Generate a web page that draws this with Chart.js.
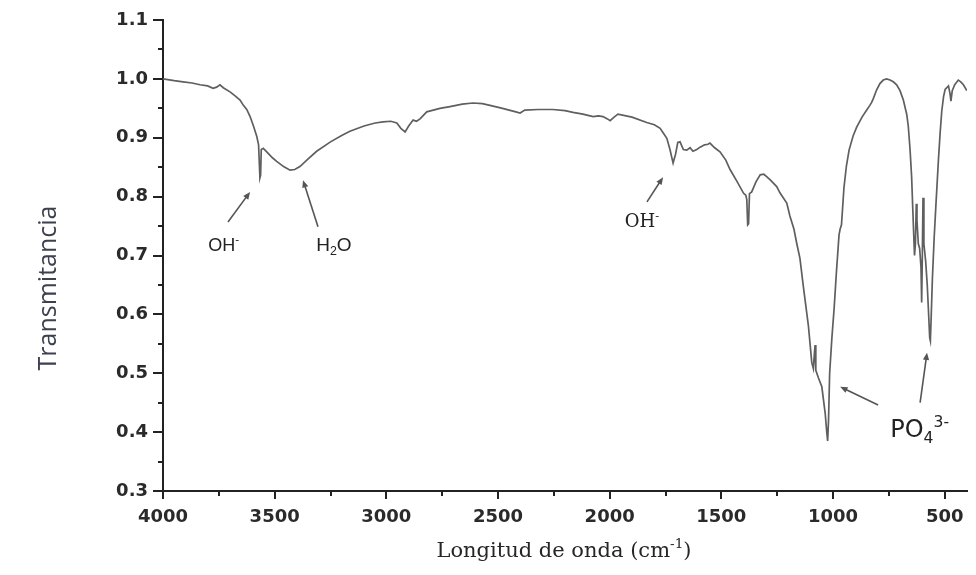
<!DOCTYPE html>
<html>
<head>
<meta charset="utf-8">
<script src="https://cdn.jsdelivr.net/npm/chart.js@4.4.1/dist/chart.umd.min.js"></script>
<style>
  html, body { margin: 0; padding: 0; background: #fff; }
  #wrap { width: 976px; height: 575px; position: relative; }
</style>
</head>
<body>
<div id="wrap"><canvas id="myChart"></canvas></div>
<script>
// IR spectrum (wavenumber cm-1 / transmittance)
const wavenumber = [
  4000, 3950, 3910, 3870, 3834, 3800, 3776, 3760, 3745, 3730, 3700, 3680, 3655, 3640, 3625, 3610,
  3595, 3580, 3572, 3568, 3566, 3563, 3560, 3551, 3530, 3510, 3491, 3460, 3431, 3410, 3387, 3350,
  3312, 3250, 3200, 3163, 3100, 3050, 3015, 2980, 2953, 2935, 2916, 2900, 2880, 2865, 2849, 2819,
  2790, 2760, 2715, 2660, 2612, 2570, 2536, 2480, 2420, 2401, 2380, 2320, 2254, 2200, 2164, 2120,
  2074, 2050, 2030, 2010, 1998, 1980, 1963, 1900, 1834, 1800, 1774, 1760, 1744, 1730, 1716, 1705,
  1695, 1685, 1670, 1655, 1640, 1627, 1610, 1595, 1575, 1560, 1551, 1530, 1506, 1480, 1461, 1430,
  1401, 1390, 1386, 1382, 1378, 1374, 1364, 1345, 1326, 1310, 1297, 1280, 1252, 1237, 1207, 1193,
  1175, 1162, 1148, 1133, 1110, 1095, 1088, 1083, 1080, 1077, 1065, 1050, 1035, 1028, 1024, 1020,
  1015, 1005, 995, 985, 973, 968, 962, 951, 940, 928, 910, 894, 870, 849, 835, 827,
  820, 805, 790, 775, 760, 745, 730, 715, 700, 685, 670, 663, 655, 648, 640, 635,
  631, 627, 624, 618, 612, 606, 603, 600, 597, 593, 585, 578, 573, 567, 564, 560,
  555, 547, 540, 528, 520, 513, 505, 498, 483, 476, 472, 466, 455, 439, 428, 416, 401
]
const transmittance = [
  1.000, 0.997, 0.995, 0.993, 0.990, 0.988, 0.984, 0.986, 0.990, 0.985, 0.978, 0.972, 0.964, 0.955, 0.948, 0.936,
  0.920, 0.902, 0.888, 0.850, 0.832, 0.836, 0.880, 0.882, 0.874, 0.866, 0.860, 0.851, 0.845, 0.846, 0.851, 0.864,
  0.877, 0.893, 0.904, 0.911, 0.920, 0.925, 0.927, 0.928, 0.925, 0.916, 0.910, 0.920, 0.930, 0.928, 0.932, 0.944,
  0.947, 0.950, 0.953, 0.957, 0.959, 0.958, 0.955, 0.950, 0.944, 0.942, 0.947, 0.948, 0.948, 0.946, 0.943, 0.940,
  0.936, 0.937, 0.936, 0.932, 0.929, 0.935, 0.940, 0.935, 0.926, 0.922, 0.916, 0.908, 0.899, 0.880, 0.857, 0.872,
  0.892, 0.893, 0.880, 0.879, 0.883, 0.877, 0.880, 0.884, 0.888, 0.889, 0.891, 0.883, 0.876, 0.862, 0.846, 0.826,
  0.806, 0.802, 0.795, 0.752, 0.754, 0.805, 0.808, 0.825, 0.837, 0.838, 0.834, 0.828, 0.817, 0.806, 0.789, 0.767,
  0.745, 0.720, 0.695, 0.648, 0.580, 0.518, 0.508, 0.535, 0.548, 0.505, 0.492, 0.477, 0.432, 0.400, 0.385, 0.420,
  0.500, 0.560, 0.610, 0.670, 0.735, 0.745, 0.752, 0.815, 0.852, 0.879, 0.903, 0.918, 0.935, 0.947, 0.955, 0.960,
  0.966, 0.981, 0.992, 0.998, 1.000, 0.998, 0.995, 0.990, 0.980, 0.964, 0.940, 0.920, 0.880, 0.834, 0.750, 0.700,
  0.720, 0.788, 0.760, 0.720, 0.712, 0.680, 0.620, 0.700, 0.798, 0.720, 0.690, 0.650, 0.610, 0.560, 0.555, 0.600,
  0.660, 0.730, 0.780, 0.862, 0.910, 0.945, 0.970, 0.982, 0.988, 0.975, 0.962, 0.980, 0.990, 0.998, 0.995, 0.990, 0.980
]

const xTicks = [4000, 3500, 3000, 2500, 2000, 1500, 1000, 500]
const xMinor = [3750, 3250, 2750, 2250, 1750, 1250, 750]
const yTicks = [0.3, 0.4, 0.5, 0.6, 0.7, 0.8, 0.9, 1.0, 1.1]
const yMinor = [0.35, 0.45, 0.55, 0.65, 0.75, 0.85, 0.95, 1.05]

// band labels, placed in data units
const bandLabels = [
  { x: 3728, y: 0.708, size: 18, family: '"Liberation Sans", Arial, sans-serif', parts: [{ t: 'OH' }, { t: '-', sup: true }] },
  { x: 3235, y: 0.708, size: 19, family: '"Liberation Sans", Arial, sans-serif', parts: [{ t: 'H' }, { t: '2', sub: true }, { t: 'O' }] },
  { x: 1855, y: 0.748, size: 18, family: '"DejaVu Serif", serif', parts: [{ t: 'OH' }, { t: '-', sup: true }] },
  { x: 612, y: 0.391, size: 24, family: '"DejaVu Sans", sans-serif', parts: [{ t: 'PO' }, { t: '4', sub: true }, { t: '3-', sup: true }] }
]
const arrows = [
  { from: [3709, 0.757], to: [3610, 0.808] },
  { from: [3306, 0.749], to: [3373, 0.828] },
  { from: [1833, 0.791], to: [1761, 0.833] },
  { from: [798, 0.446], to: [968, 0.477] },
  { from: [610, 0.450], to: [579, 0.535] }
]

const points = wavenumber.map((w, i) => ({ x: w, y: transmittance[i] }))

function drawParts(ctx, parts, cx, cy, size, family) {
  let total = 0
  const items = parts.map((p) => {
    const s = (p.sub || p.sup) ? size * 0.65 : size
    ctx.font = `${s}px ${family}`
    const w = ctx.measureText(p.t).width
    total += w
    return { ...p, s, w }
  })
  let xx = cx - total / 2
  items.forEach((p) => {
    ctx.font = `${p.s}px ${family}`
    const dy = p.sup ? -size * 0.42 : p.sub ? size * 0.22 : 0
    ctx.fillText(p.t, xx, cy + dy)
    xx += p.w
  })
}

const extras = {
  id: 'extras',
  afterDraw(chart) {
    const { ctx, scales: { x, y } } = chart
    ctx.save()
    // minor ticks
    ctx.strokeStyle = '#222'
    ctx.lineWidth = 2
    xMinor.forEach((v) => {
      const px = Math.round(x.getPixelForValue(v))
      ctx.beginPath(); ctx.moveTo(px, y.bottom); ctx.lineTo(px, y.bottom + 5); ctx.stroke()
    })
    yMinor.forEach((v) => {
      const py = Math.round(y.getPixelForValue(v))
      ctx.beginPath(); ctx.moveTo(x.left, py); ctx.lineTo(x.left - 5, py); ctx.stroke()
    })

    // arrows
    ctx.strokeStyle = '#555'
    ctx.fillStyle = '#555'
    ctx.lineWidth = 1.6
    arrows.forEach((a) => {
      const x0 = x.getPixelForValue(a.from[0]), y0 = y.getPixelForValue(a.from[1])
      const x1 = x.getPixelForValue(a.to[0]), y1 = y.getPixelForValue(a.to[1])
      const ang = Math.atan2(y1 - y0, x1 - x0)
      ctx.beginPath(); ctx.moveTo(x0, y0); ctx.lineTo(x1 - 4 * Math.cos(ang), y1 - 4 * Math.sin(ang)); ctx.stroke()
      ctx.beginPath()
      ctx.moveTo(x1, y1)
      ctx.lineTo(x1 - 8 * Math.cos(ang - 0.4), y1 - 8 * Math.sin(ang - 0.4))
      ctx.lineTo(x1 - 8 * Math.cos(ang + 0.4), y1 - 8 * Math.sin(ang + 0.4))
      ctx.closePath(); ctx.fill()
    })

    // band labels
    ctx.fillStyle = '#222'
    ctx.textAlign = 'left'
    ctx.textBaseline = 'alphabetic'
    bandLabels.forEach((l) => {
      drawParts(ctx, l.parts, x.getPixelForValue(l.x), y.getPixelForValue(l.y), l.size, l.family)
    })

    // axis titles
    ctx.fillStyle = '#262626'
    drawParts(ctx, [{ t: 'Longitud de onda (cm' }, { t: '-1', sup: true }, { t: ')' }],
      (x.left + x.right) / 2 - 1, 557, 21, '"DejaVu Serif", serif')

    ctx.save()
    ctx.translate(56, 288)
    ctx.rotate(-Math.PI / 2)
    ctx.fillStyle = '#3c4150'
    ctx.font = '25px "Open Sans", sans-serif'
    ctx.textAlign = 'center'
    ctx.fillText('Transmitancia', 0, 0)
    ctx.restore()

    ctx.restore()
  }
}

const config = {
  type: 'line',
  data: {
    datasets: [{
      data: points,
      borderColor: '#5f5f5f',
      borderWidth: 1.7,
      pointRadius: 0,
      tension: 0,
      fill: false
    }]
  },
  options: {
    responsive: true,
    maintainAspectRatio: false,
    animation: false,
    layout: { padding: { top: 20, right: 9, left: 0, bottom: 0 } },
    plugins: { legend: { display: false }, tooltip: { enabled: false } },
    scales: {
      x: {
        type: 'linear',
        reverse: true,
        min: 400,
        max: 4000,
        afterBuildTicks: (s) => { s.ticks = xTicks.map((v) => ({ value: v })) },
        afterFit: (s) => { s.height = 84 },
        grid: { drawOnChartArea: false, tickLength: 8, color: '#222', lineWidth: 2 },
        border: { display: true, color: '#222', width: 2 },
        ticks: {
          padding: 8,
          color: '#2a2a2a',
          font: { family: '"DejaVu Sans", sans-serif', size: 18, weight: 'bold' },
          maxRotation: 0,
          callback: (v) => String(v)
        }
      },
      y: {
        min: 0.3,
        max: 1.1,
        afterBuildTicks: (s) => { s.ticks = yTicks.map((v) => ({ value: v })) },
        afterFit: (s) => { s.width = 163 },
        grid: { drawOnChartArea: false, tickLength: 10, color: '#222', lineWidth: 2 },
        border: { display: true, color: '#222', width: 2 },
        ticks: {
          padding: 5,
          color: '#2a2a2a',
          font: { family: '"DejaVu Sans", sans-serif', size: 18, weight: 'bold' },
          callback: (v) => v.toFixed(1)
        }
      }
    }
  },
  plugins: [extras]
}

const myChart = new Chart(document.getElementById('myChart'), config)
</script>
</body>
</html>
